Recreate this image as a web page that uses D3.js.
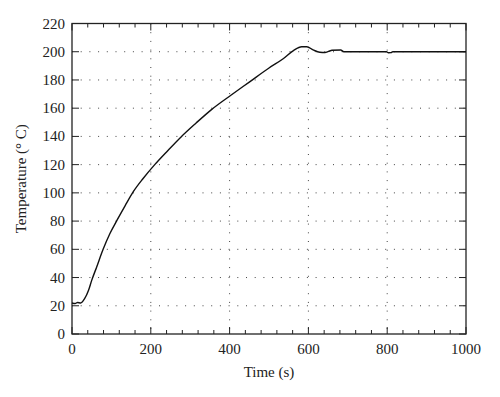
<!DOCTYPE html>
<html>
  <head>
    <meta charset="utf-8">
    <script src="https://d3js.org/d3.v7.min.js"></script>
    <style>
      body { margin: 0; background: #fff; }
      text { font-family: "Liberation Serif", "DejaVu Serif", serif; fill: #222; }
    </style>
  </head>
<body>
<script>
  // time (s) and temperature (°C)
  var timeS = [0, 8, 14, 22, 32, 42, 50, 62, 79, 96, 115, 135, 156, 180, 210, 240, 278, 315,
               354, 405, 450, 500, 536, 562, 583, 596, 612, 629, 642, 651, 660, 682, 690,
               798, 803, 810, 814, 1000];
  var tempC = [22, 21.6, 22.3, 22, 25, 31, 38, 47, 60, 71, 81, 91, 101, 110, 120, 129, 140, 149.5,
               159, 169.5, 178.5, 188.5, 195, 200.8, 203.5, 203.5, 201.3, 199.6, 199.4, 200.2, 201, 201.2, 200,
               200, 199.3, 199.4, 200, 200];
  var xTicks = [0, 200, 400, 600, 800, 1000];
  var yTicks = d3.range(0, 221, 20);

  var data = timeS.map(function (t, i) { return {t: t, v: tempC[i]}; });

  var margin = {top: 23.5, right: 34, bottom: 63, left: 72},
      width = 500 - margin.left - margin.right,
      height = 397 - margin.top - margin.bottom;

  var svg = d3.select("body").append("svg")
      .attr("width", 500).attr("height", 397)
    .append("g")
      .attr("transform", "translate(" + margin.left + "," + margin.top + ")");

  var x = d3.scaleLinear().domain([0, 1000]).range([0, width]);
  var y = d3.scaleLinear().domain([0, 220]).range([height, 0]);

  // dotted grid
  svg.selectAll(".gx").data(xTicks.slice(1, -1)).enter().append("line")
      .attr("x1", x).attr("x2", x).attr("y1", 0).attr("y2", height)
      .attr("stroke", "#444").attr("stroke-width", 1)
      .attr("stroke-dasharray", "1,7.7");
  svg.selectAll(".gy").data(yTicks.slice(1, -1)).enter().append("line")
      .attr("y1", y).attr("y2", y).attr("x1", 0).attr("x2", width)
      .attr("stroke", "#444").attr("stroke-width", 1)
      .attr("stroke-dasharray", "1,7.7");

  // ticks on all four sides
  var minor = d3.range(0, 1001, 40).filter(function (d) { return d % 200 !== 0; });
  function tickLines(vals, len, horizontal) {
    vals.forEach(function (v) {
      if (horizontal) {
        svg.append("line").attr("x1", x(v)).attr("x2", x(v)).attr("y1", height).attr("y2", height - len).attr("stroke", "#222");
        svg.append("line").attr("x1", x(v)).attr("x2", x(v)).attr("y1", 0).attr("y2", len).attr("stroke", "#222");
      } else {
        svg.append("line").attr("y1", y(v)).attr("y2", y(v)).attr("x1", 0).attr("x2", len).attr("stroke", "#222");
        svg.append("line").attr("y1", y(v)).attr("y2", y(v)).attr("x1", width).attr("x2", width - len).attr("stroke", "#222");
      }
    });
  }
  tickLines(xTicks, 7, true);
  tickLines(minor, 4, true);
  tickLines(yTicks, 7, false);

  // frame
  svg.append("rect").attr("width", width).attr("height", height)
      .attr("fill", "none").attr("stroke", "#222").attr("stroke-width", 1.3);

  // tick labels
  svg.selectAll(".xl").data(xTicks).enter().append("text")
      .attr("x", x).attr("y", height + 20)
      .attr("text-anchor", "middle").style("font-size", "15px")
      .text(function (d) { return d; });
  svg.selectAll(".yl").data(yTicks).enter().append("text")
      .attr("x", -7).attr("y", function (d) { return y(d) + 5; })
      .attr("text-anchor", "end").style("font-size", "15px")
      .text(function (d) { return d; });

  // axis titles
  svg.append("text")
      .attr("x", width / 2).attr("y", height + 43)
      .attr("text-anchor", "middle").style("font-size", "15px")
      .text("Time (s)");
  svg.append("text")
      .attr("transform", "translate(-46," + (height / 2) + ") rotate(-90)")
      .attr("text-anchor", "middle").style("font-size", "15px")
      .text("Temperature (° C)");

  // the curve
  var line = d3.line()
      .x(function (d) { return x(d.t); })
      .y(function (d) { return y(d.v); })
      .curve(d3.curveMonotoneX);
  svg.append("path").datum(data)
      .attr("d", line)
      .attr("fill", "none").attr("stroke", "#111").attr("stroke-width", 1.4);
</script>
</body>
</html>
